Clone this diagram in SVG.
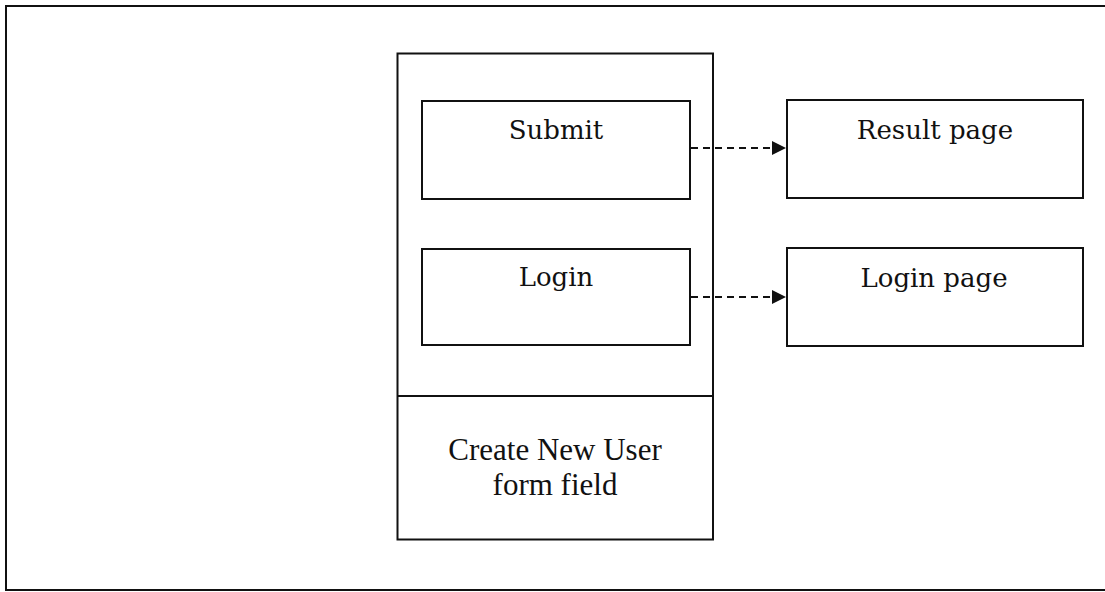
<svg xmlns="http://www.w3.org/2000/svg" width="1105" height="592" viewBox="0 0 1105 592">
<defs>
<style>
.box{fill:none;stroke:#111;stroke-width:2}
.frame{fill:none;stroke:#111;stroke-width:2}
.lbl{font-family:"DejaVu Serif","Liberation Serif",serif;font-size:26px;fill:#111;text-anchor:middle}
.lbl2{font-family:"Liberation Serif",serif;font-size:31px;fill:#111;text-anchor:middle}
.conn{fill:none;stroke:#111;stroke-width:1.8;stroke-dasharray:7 5}
</style>
<marker id="arr" viewBox="0 0 14 14" refX="14" refY="7" markerWidth="14" markerHeight="14" markerUnits="userSpaceOnUse" orient="auto">
<path d="M0,0 L14,7 L0,14 Z" fill="#111"/>
</marker>
</defs>
<rect width="1105" height="592" fill="#fff"/>
<rect class="frame" x="6" y="6" width="1112" height="584"/>
<g id="container">
<rect class="box" x="397.5" y="53.5" width="315.5" height="486"/>
<line class="box" x1="397.5" y1="396" x2="713" y2="396"/>
</g>
<g id="submit">
<rect class="box" x="422" y="101" width="268" height="98"/>
<text class="lbl" x="556" y="139">Submit</text>
</g>
<g id="login">
<rect class="box" x="422" y="249" width="268" height="96"/>
<text class="lbl" x="556" y="286">Login</text>
</g>
<g id="create-user">
<text class="lbl2" x="555" y="460">Create New User</text>
<text class="lbl2" x="555" y="495">form field</text>
</g>
<g id="result-page">
<rect class="box" x="787" y="100" width="296" height="98"/>
<text class="lbl" x="935" y="139">Result page</text>
</g>
<g id="login-page">
<rect class="box" x="787" y="248" width="296" height="98"/>
<text class="lbl" x="934" y="287">Login page</text>
</g>
<g id="connectors">
<line class="conn" x1="691" y1="148" x2="786" y2="148" marker-end="url(#arr)"/>
<line class="conn" x1="691" y1="297" x2="786" y2="297" marker-end="url(#arr)"/>
</g>
</svg>
